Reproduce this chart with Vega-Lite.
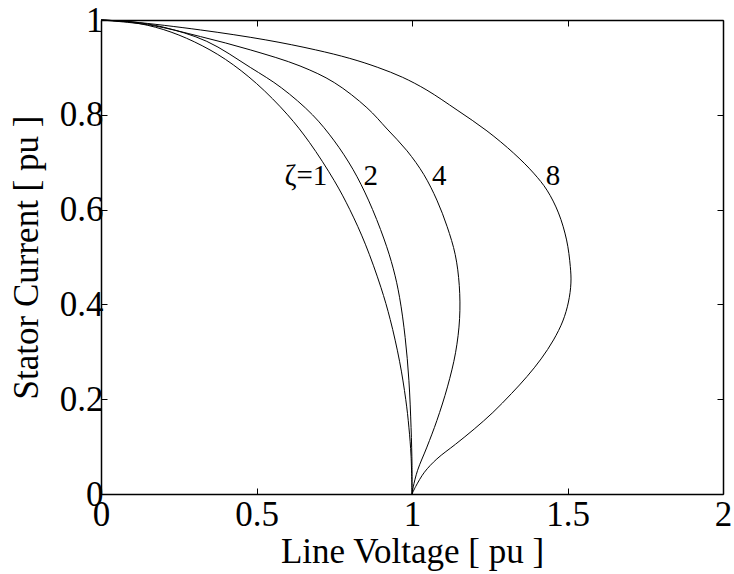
{
  "$schema": "https://vega.github.io/schema/vega-lite/v6.json",
  "width": 622,
  "height": 474,
  "autosize": {"type": "none"},
  "padding": {"left": 101, "top": 20, "right": 11, "bottom": 80},
  "background": "white",
  "config": {
    "view": {"stroke": null},
    "font": "Liberation Serif",
    "axis": {
      "grid": false,
      "domainColor": "black",
      "domainWidth": 1.5,
      "tickColor": "black",
      "tickWidth": 1,
      "tickSize": -6,
      "labelFont": "Liberation Serif",
      "labelFontSize": 35,
      "labelColor": "black",
      "labelFlush": false,
      "labelOverlap": false,
      "labelBound": false,
      "titleFont": "Liberation Serif",
      "titleFontSize": 35,
      "titleFontWeight": "normal",
      "titleColor": "black",
      "format": "~g"
    }
  },
  "datasets": {
    "curves": [
      {"xi": "1", "o": 0, "V": 0.0, "I": 1.0},
      {"xi": "1", "o": 1, "V": 0.1, "I": 0.995},
      {"xi": "1", "o": 2, "V": 0.2, "I": 0.98},
      {"xi": "1", "o": 3, "V": 0.3, "I": 0.954},
      {"xi": "1", "o": 4, "V": 0.4, "I": 0.917},
      {"xi": "1", "o": 5, "V": 0.5, "I": 0.866},
      {"xi": "1", "o": 6, "V": 0.6, "I": 0.8},
      {"xi": "1", "o": 7, "V": 0.67, "I": 0.742},
      {"xi": "1", "o": 8, "V": 0.75, "I": 0.661},
      {"xi": "1", "o": 9, "V": 0.8, "I": 0.6},
      {"xi": "1", "o": 10, "V": 0.85, "I": 0.527},
      {"xi": "1", "o": 11, "V": 0.9, "I": 0.436},
      {"xi": "1", "o": 12, "V": 0.93, "I": 0.368},
      {"xi": "1", "o": 13, "V": 0.96, "I": 0.28},
      {"xi": "1", "o": 14, "V": 0.98, "I": 0.199},
      {"xi": "1", "o": 15, "V": 0.99, "I": 0.141},
      {"xi": "1", "o": 16, "V": 0.997, "I": 0.08},
      {"xi": "1", "o": 17, "V": 1.0, "I": 0.0},
      {"xi": "2", "o": 0, "V": 0.0, "I": 1.0},
      {"xi": "2", "o": 1, "V": 0.1, "I": 0.996},
      {"xi": "2", "o": 2, "V": 0.2, "I": 0.985},
      {"xi": "2", "o": 3, "V": 0.34, "I": 0.955},
      {"xi": "2", "o": 4, "V": 0.48, "I": 0.9},
      {"xi": "2", "o": 5, "V": 0.58, "I": 0.857},
      {"xi": "2", "o": 6, "V": 0.68, "I": 0.8},
      {"xi": "2", "o": 7, "V": 0.75, "I": 0.745},
      {"xi": "2", "o": 8, "V": 0.81, "I": 0.685},
      {"xi": "2", "o": 9, "V": 0.86, "I": 0.62},
      {"xi": "2", "o": 10, "V": 0.91, "I": 0.538},
      {"xi": "2", "o": 11, "V": 0.94, "I": 0.475},
      {"xi": "2", "o": 12, "V": 0.96, "I": 0.415},
      {"xi": "2", "o": 13, "V": 0.978, "I": 0.33},
      {"xi": "2", "o": 14, "V": 0.99, "I": 0.24},
      {"xi": "2", "o": 15, "V": 0.997, "I": 0.14},
      {"xi": "2", "o": 16, "V": 1.0, "I": 0.06},
      {"xi": "2", "o": 17, "V": 1.0, "I": 0.0},
      {"xi": "4", "o": 0, "V": 0.0, "I": 1.0},
      {"xi": "4", "o": 1, "V": 0.16, "I": 0.989},
      {"xi": "4", "o": 2, "V": 0.32, "I": 0.965},
      {"xi": "4", "o": 3, "V": 0.48, "I": 0.937},
      {"xi": "4", "o": 4, "V": 0.64, "I": 0.903},
      {"xi": "4", "o": 5, "V": 0.75, "I": 0.868},
      {"xi": "4", "o": 6, "V": 0.855, "I": 0.815},
      {"xi": "4", "o": 7, "V": 0.92, "I": 0.77},
      {"xi": "4", "o": 8, "V": 0.984, "I": 0.724},
      {"xi": "4", "o": 9, "V": 1.038, "I": 0.674},
      {"xi": "4", "o": 10, "V": 1.08, "I": 0.62},
      {"xi": "4", "o": 11, "V": 1.113, "I": 0.564},
      {"xi": "4", "o": 12, "V": 1.139, "I": 0.505},
      {"xi": "4", "o": 13, "V": 1.152, "I": 0.44},
      {"xi": "4", "o": 14, "V": 1.153, "I": 0.37},
      {"xi": "4", "o": 15, "V": 1.14, "I": 0.298},
      {"xi": "4", "o": 16, "V": 1.114, "I": 0.226},
      {"xi": "4", "o": 17, "V": 1.08, "I": 0.155},
      {"xi": "4", "o": 18, "V": 1.048, "I": 0.099},
      {"xi": "4", "o": 19, "V": 1.018, "I": 0.05},
      {"xi": "4", "o": 20, "V": 1.004, "I": 0.015},
      {"xi": "4", "o": 21, "V": 1.0, "I": 0.0},
      {"xi": "8", "o": 0, "V": 0.0, "I": 1.0},
      {"xi": "8", "o": 1, "V": 0.1, "I": 0.996},
      {"xi": "8", "o": 2, "V": 0.32, "I": 0.979},
      {"xi": "8", "o": 3, "V": 0.53, "I": 0.958},
      {"xi": "8", "o": 4, "V": 0.69, "I": 0.937},
      {"xi": "8", "o": 5, "V": 0.8, "I": 0.919},
      {"xi": "8", "o": 6, "V": 0.89, "I": 0.9},
      {"xi": "8", "o": 7, "V": 0.97, "I": 0.879},
      {"xi": "8", "o": 8, "V": 1.048, "I": 0.852},
      {"xi": "8", "o": 9, "V": 1.145, "I": 0.81},
      {"xi": "8", "o": 10, "V": 1.241, "I": 0.766},
      {"xi": "8", "o": 11, "V": 1.327, "I": 0.719},
      {"xi": "8", "o": 12, "V": 1.391, "I": 0.677},
      {"xi": "8", "o": 13, "V": 1.434, "I": 0.641},
      {"xi": "8", "o": 14, "V": 1.471, "I": 0.593},
      {"xi": "8", "o": 15, "V": 1.497, "I": 0.536},
      {"xi": "8", "o": 16, "V": 1.509, "I": 0.48},
      {"xi": "8", "o": 17, "V": 1.511, "I": 0.445},
      {"xi": "8", "o": 18, "V": 1.503, "I": 0.405},
      {"xi": "8", "o": 19, "V": 1.485, "I": 0.365},
      {"xi": "8", "o": 20, "V": 1.455, "I": 0.325},
      {"xi": "8", "o": 21, "V": 1.415, "I": 0.285},
      {"xi": "8", "o": 22, "V": 1.37, "I": 0.248},
      {"xi": "8", "o": 23, "V": 1.32, "I": 0.212},
      {"xi": "8", "o": 24, "V": 1.26, "I": 0.172},
      {"xi": "8", "o": 25, "V": 1.2, "I": 0.137},
      {"xi": "8", "o": 26, "V": 1.14, "I": 0.105},
      {"xi": "8", "o": 27, "V": 1.08, "I": 0.074},
      {"xi": "8", "o": 28, "V": 1.04, "I": 0.046},
      {"xi": "8", "o": 29, "V": 1.012, "I": 0.016},
      {"xi": "8", "o": 30, "V": 1.0, "I": 0.0}
    ],
    "labels": [
      {"label": "ζ=1", "V": 0.659, "I": 0.652},
      {"label": "2", "V": 0.867, "I": 0.652},
      {"label": "4", "V": 1.088, "I": 0.652},
      {"label": "8", "V": 1.453, "I": 0.652}
    ]
  },
  "layer": [
    {
      "data": {"name": "curves"},
      "mark": {"type": "line", "color": "black", "strokeWidth": 1, "interpolate": "catmull-rom"},
      "encoding": {
        "x": {"field": "V", "type": "quantitative", "scale": {"domain": [0, 2], "nice": false},
              "axis": {"orient": "bottom", "title": "Line Voltage [ pu ]", "values": [0, 0.5, 1, 1.5, 2], "labelPadding": 9, "titlePadding": 2}},
        "y": {"field": "I", "type": "quantitative", "scale": {"domain": [0, 1], "nice": false},
              "axis": {"orient": "left", "title": "Stator Current [ pu ]", "values": [0, 0.2, 0.4, 0.6, 0.8, 1], "labelPadding": 4, "titlePadding": 15}},
        "detail": {"field": "xi", "type": "nominal"},
        "order": {"field": "o", "type": "quantitative"}
      }
    },
    {
      "data": {"name": "labels"},
      "mark": {"type": "text", "fontSize": 29, "font": "Liberation Serif", "align": "center", "baseline": "alphabetic", "color": "black"},
      "encoding": {
        "x": {"field": "V", "type": "quantitative", "axis": {"orient": "top", "labels": false, "title": null, "values": [0, 0.5, 1, 1.5, 2]}},
        "y": {"field": "I", "type": "quantitative", "axis": {"orient": "right", "labels": false, "title": null, "values": [0, 0.2, 0.4, 0.6, 0.8, 1]}},
        "text": {"field": "label"}
      }
    }
  ],
  "resolve": {"axis": {"x": "independent", "y": "independent"}}
}
